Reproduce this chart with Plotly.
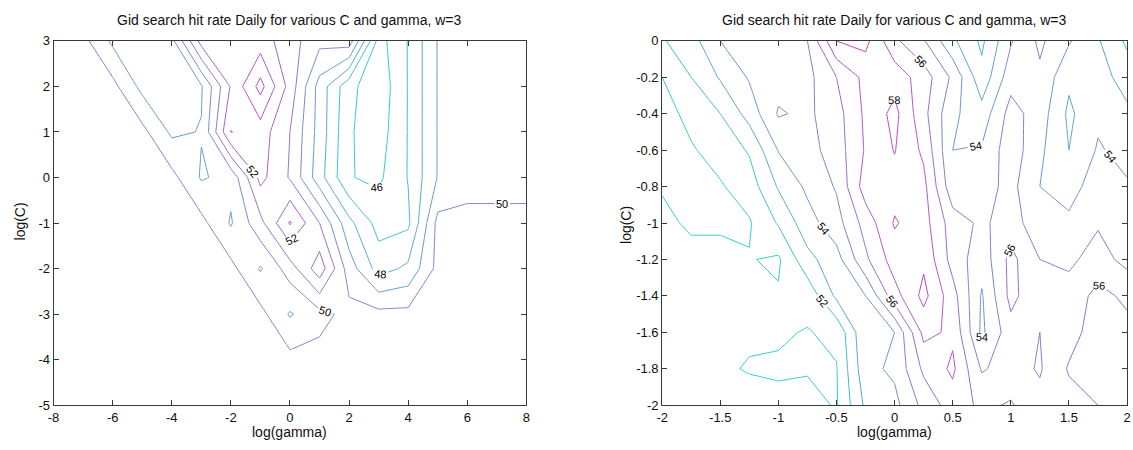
import plotly.graph_objects as go

# ---------------- left panel: coarse grid ----------------
GAMMA_L = [-8, -7, -6, -5, -4, -3, -2, -1, 0, 1, 2, 3, 4, 5, 6, 7, 8]
C_L = [-5, -4, -3, -2, -1, 0, 1, 2, 3]
# hit rate (%) per row of C (bottom to top), columns follow GAMMA_L
HIT_L = [
    [50.3, 50.3, 50.3, 50.3, 50.3, 50.3, 50.3, 50.3, 50.3, 50.3, 50.3, 50.3, 50.3, 50.3, 50.3, 50.3, 50.3],
    [50.3, 50.3, 50.3, 50.3, 50.3, 50.3, 50.3, 50.3, 50.3, 50.3, 50.3, 50.3, 50.3, 50.3, 50.3, 50.3, 50.3],
    [50.3, 50.3, 50.3, 50.3, 50.3, 50.3, 50.3, 50.3, 48.9, 49.7, 50.3, 50.3, 50.3, 50.3, 50.3, 50.3, 50.3],
    [50.3, 50.3, 50.3, 50.3, 50.3, 50.3, 50.3, 48.9, 50.5, 52.6, 49.5, 47.6, 48.2, 50.3, 50.3, 50.3, 50.3],
    [50.3, 50.3, 50.3, 50.3, 50.3, 50.3, 48.9, 50.7, 53.1, 51.0, 48.3, 46.6, 46.8, 50.3, 50.3, 50.3, 50.3],
    [50.3, 50.3, 50.3, 50.3, 50.3, 48.9, 49.3, 52.3, 50.9, 48.4, 46.05, 45.8, 47.05, 49.05, 49.6, 49.6, 49.6],
    [50.3, 50.3, 50.3, 50.3, 48.8, 49.05, 53.03, 52.5, 51.0, 48.6, 46.1, 45.5, 47.05, 49.05, 49.6, 49.6, 49.6],
    [50.3, 50.3, 50.3, 48.7, 48.4, 48.9, 52.1, 54.35, 51.6, 48.6, 46.3, 45.3, 47.05, 49.05, 49.6, 49.6, 49.6],
    [50.3, 50.3, 48.8, 48.6, 48.7, 52.4, 52.3, 52.5, 51.4, 50.3, 50.6, 45.6, 47.05, 49.05, 49.6, 49.6, 49.6],
]
LEVELS_L = [46, 47, 48, 49, 50, 51, 52, 53, 54]

# ---------------- right panel: fine grid ----------------
GAMMA_R = [-2, -1.75, -1.5, -1.25, -1, -0.75, -0.5, -0.25, 0, 0.25, 0.5, 0.75, 1, 1.25, 1.5, 1.75, 2]
C_R = [-2, -1.8, -1.6, -1.4, -1.2, -1, -0.8, -0.6, -0.4, -0.2, 0]
HIT_R = [
    [51.1, 51.2, 51.3, 51.3, 51.2, 51.4, 50.9, 53.2, 53.7, 55.3, 56.5, 55.8, 56.1, 55.3, 55.6, 56.0, 56.1],
    [51.2, 51.2, 51.1, 50.95, 50.9, 50.9, 50.95, 53.7, 54.2, 56.2, 57.2, 54.9, 55.4, 54.9, 56.1, 56.4, 56.2],
    [51.3, 51.3, 51.3, 51.1, 51.1, 50.95, 51.2, 53.9, 54.0, 57.3, 56.8, 53.8, 55.6, 55.0, 55.6, 56.5, 56.3],
    [51.4, 51.5, 51.5, 51.3, 51.1, 51.3, 53.2, 54.0, 56.6, 58.3, 56.4, 53.9, 56.3, 55.2, 55.4, 56.3, 55.8],
    [51.4, 51.4, 51.4, 51.05, 50.85, 52.7, 53.6, 55.8, 57.5, 57.8, 55.6, 54.4, 56.3, 55.0, 54.8, 55.4, 54.7],
    [51.3, 50.8, 50.8, 50.9, 52.1, 53.6, 54.6, 56.4, 58.1, 57.4, 55.5, 54.8, 55.5, 54.3, 54.2, 54.9, 54.3],
    [50.9, 50.7, 50.9, 51.5, 53.1, 54.2, 55.1, 57.5, 57.6, 57.3, 54.3, 54.6, 55.3, 54.0, 53.6, 54.5, 54.1],
    [50.6, 50.9, 51.4, 52.1, 54.05, 54.6, 55.5, 57.1, 58.05, 56.8, 54.0, 54.1, 55.6, 54.2, 53.0, 54.1, 53.7],
    [50.6, 51.3, 52.0, 53.4, 55.1, 54.8, 55.6, 57.2, 58.3, 56.3, 54.2, 53.4, 55.4, 54.5, 52.8, 53.8, 53.2],
    [51.0, 52.0, 53.1, 54.1, 54.6, 54.7, 56.0, 57.3, 57.6, 56.5, 54.8, 52.3, 54.6, 54.8, 53.2, 53.4, 52.6],
    [51.9, 52.6, 54.0, 54.6, 54.8, 55.0, 58.0, 58.3, 56.2, 55.1, 53.2, 51.8, 53.9, 55.2, 54.1, 53.1, 51.8],
]
LEVELS_R = [51, 52, 53, 54, 55, 56, 57, 58]

TITLE = "Gid search hit rate Daily for various C and gamma, w=3"
XT_L = [-8, -6, -4, -2, 0, 2, 4, 6, 8]
XT_L_TEXT = ["-8", "-6", "-4", "-2", "0", "2", "4", "6", "8"]
YT_L = [-5, -4, -3, -2, -1, 0, 1, 2, 3]
YT_L_TEXT = ["-5", "-4", "-3", "-2", "-1", "0", "1", "2", "3"]
XT_R = [-2, -1.5, -1, -0.5, 0, 0.5, 1, 1.5, 2]
XT_R_TEXT = ["-2", "-1.5", "-1", "-0.5", "0", "0.5", "1", "1.5", "2"]
YT_R = [-2, -1.8, -1.6, -1.4, -1.2, -1, -0.8, -0.6, -0.4, -0.2, 0]
YT_R_TEXT = ["-2", "-1.8", "-1.6", "-1.4", "-1.2", "-1", "-0.8", "-0.6", "-0.4", "-0.2", "0"]

FONT = "Liberation Sans, Arial, sans-serif"

# line colours run from a soft cyan (lowest level) to a soft magenta (highest)
LOW_RGB = (45, 205, 210)
HIGH_RGB = (195, 65, 195)


def level_color(t):
    r, g, b = (round(lo + (hi - lo) * t) for lo, hi in zip(LOW_RGB, HIGH_RGB))
    return f"rgb({r},{g},{b})"


def add_levels(fig, x, y, z, levels, xa, ya):
    lo, hi = levels[0], levels[-1]
    for lev in levels:
        col = level_color((lev - lo) / (hi - lo))
        fig.add_trace(go.Contour(
            x=x, y=y, z=z,
            xaxis=xa, yaxis=ya,
            autocontour=False,
            contours=dict(start=lev, end=lev, size=1, coloring="lines",
                          showlabels=(lev % 2 == 0),
                          labelfont=dict(family=FONT, size=11, color="black")),
            colorscale=[[0, col], [1, col]],
            line=dict(width=1, smoothing=0),
            showscale=False,
            hoverinfo="skip",
        ))


fig = go.Figure()
add_levels(fig, GAMMA_L, C_L, HIT_L, LEVELS_L, "x", "y")
add_levels(fig, GAMMA_R, C_R, HIT_R, LEVELS_R, "x2", "y2")

W, H = 1133, 450
L_X0, L_X1 = 48 / W, 525 / W
R_X0, R_X1 = 662 / W, 1131 / W
Y0, Y1 = 1 - 412 / H, 1 - 35 / H

axis_common = dict(
    showline=True, linecolor="#3a3a3a", linewidth=1, mirror="ticks",
    ticks="inside", ticklen=5, tickcolor="#3a3a3a", showgrid=False,
    zeroline=False, tickfont=dict(family=FONT, size=13, color="#111"),
)

fig.update_layout(
    width=W, height=H,
    margin=dict(l=0, r=0, t=0, b=0),
    paper_bgcolor="white", plot_bgcolor="white",
    showlegend=False,
    xaxis=dict(domain=[L_X0, L_X1], range=[-8, 8], tickvals=XT_L, ticktext=XT_L_TEXT,
               anchor="y", **axis_common),
    yaxis=dict(domain=[Y0, Y1], range=[-5, 3], tickvals=YT_L, ticktext=YT_L_TEXT,
               anchor="x", **axis_common),
    xaxis2=dict(domain=[R_X0, R_X1], range=[-2, 2], tickvals=XT_R, ticktext=XT_R_TEXT,
                anchor="y2", **axis_common),
    yaxis2=dict(domain=[Y0, Y1], range=[-2, 0], tickvals=YT_R, ticktext=YT_R_TEXT,
                anchor="x2", **axis_common),
)

title_font = dict(family=FONT, size=14, color="#111")
label_font = dict(family=FONT, size=14, color="#111")
annotations = [
    dict(text=TITLE, x=(L_X0 + L_X1) / 2, y=1 - 13 / H, xref="paper", yref="paper",
         showarrow=False, font=title_font, xanchor="center", yanchor="middle"),
    dict(text=TITLE, x=(R_X0 + R_X1) / 2, y=1 - 13 / H, xref="paper", yref="paper",
         showarrow=False, font=title_font, xanchor="center", yanchor="middle"),
    dict(text="log(gamma)", x=(L_X0 + L_X1) / 2, y=1 - 440 / H, xref="paper", yref="paper",
         showarrow=False, font=label_font, xanchor="center", yanchor="middle"),
    dict(text="log(gamma)", x=(R_X0 + R_X1) / 2, y=1 - 440 / H, xref="paper", yref="paper",
         showarrow=False, font=label_font, xanchor="center", yanchor="middle"),
    dict(text="log(C)", x=14 / W, y=1 - 222 / H, xref="paper", yref="paper", textangle=-90,
         showarrow=False, font=label_font, xanchor="center", yanchor="middle"),
    dict(text="log(C)", x=625 / W, y=1 - 225 / H, xref="paper", yref="paper", textangle=-90,
         showarrow=False, font=label_font, xanchor="center", yanchor="middle"),
]
fig.update_layout(annotations=annotations)

fig.write_html("out.html")
